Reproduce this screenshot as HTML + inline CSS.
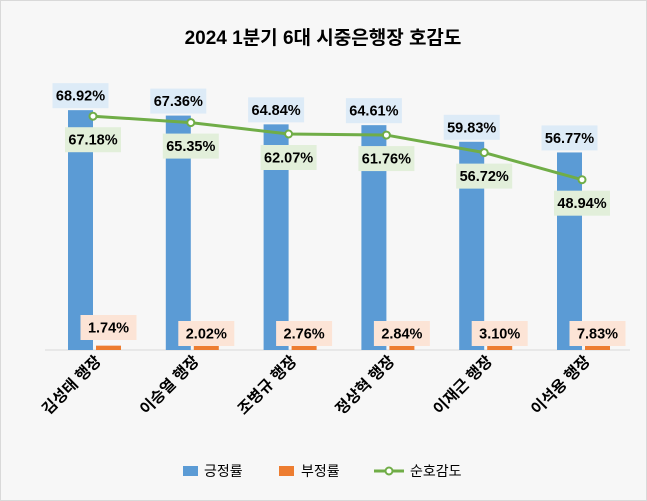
<!DOCTYPE html>
<html><head><meta charset="utf-8"><style>
body{margin:0;background:#fff}
svg{display:block;font-family:"Liberation Sans","Noto Sans CJK KR",sans-serif}
</style></head><body>
<svg id="chart" width="647" height="501">
<rect x="0.5" y="0.5" width="646" height="500" fill="#f7f7f7" stroke="#d9d9d9"/>
<text x="323" y="44" text-anchor="middle" font-size="19" font-weight="bold" fill="#000">2024 1분기 6대 시중은행장 호감도</text>
<line x1="45" y1="350" x2="630" y2="350" stroke="#d9d9d9"/>
<g id="marks"></g>
<g>
<rect x="183" y="466" width="15" height="10" fill="#5b9bd5"/>
<text x="204" y="476" font-size="14">긍정률</text>
<rect x="279" y="466" width="15" height="10" fill="#ed7d31"/>
<text x="301" y="476" font-size="14">부정률</text>
<line x1="374" y1="471" x2="404" y2="471" stroke="#70ad47" stroke-width="3"/>
<circle cx="389" cy="471" r="3.5" fill="#fff" stroke="#70ad47" stroke-width="2"/>
<text x="410" y="476" font-size="14">순호감도</text>
</g>
</svg>
<script>
const categories=["김성태 행장","이승열 행장","조병규 행장","정상혁 행장","이재근 행장","이석용 행장"];
const positive=[68.92,67.36,64.84,64.61,59.83,56.77];
const negative=[1.74,2.02,2.76,2.84,3.10,7.83];
const net=[67.18,65.35,62.07,61.76,56.72,48.94];
const NS="http://www.w3.org/2000/svg";
const g=document.getElementById('marks');
const y0=350,sc=3.48,nsc=0.2;
function y(v){return y0-v*sc;}
// NOTE: not proportional to the positive-bar scale; compressed to match the reference image.
function nh(v){return 4+v*nsc;}
function cx(i){return 93+i*97.8;}
function mk(t,a){const e=document.createElementNS(NS,t);for(const k in a)e.setAttribute(k,a[k]);g.appendChild(e);return e;}
function label(x,yc,txt,bg,name){
  const r=mk('rect',{x:x-28,y:yc-12,width:56,height:25,fill:bg});
  
  
  const t=mk('text',{x:x,y:yc+5.5,'text-anchor':'middle','font-size':14.5,'font-weight':'bold',fill:'#000'});
  t.textContent=txt;
  
  
}
categories.forEach((c,i)=>{
  const b=mk('rect',{x:cx(i)-25,y:y(positive[i]),width:25,height:positive[i]*sc,fill:'#5b9bd5'});
  
  
  const o=mk('rect',{x:cx(i)+3,y:y0-nh(negative[i]),width:25,height:nh(negative[i]),fill:'#ed7d31'});
  
  
  const t=mk('text',{transform:`translate(${cx(i)+9},362) rotate(-45)`,'text-anchor':'end','font-size':15.5,'font-weight':'bold',fill:'#000'});
  t.textContent=c;
  
  
});
const pts=net.map((v,i)=>cx(i)+','+y(v)).join(' ');
const pl=mk('polyline',{points:pts,fill:'none',stroke:'#70ad47','stroke-width':3});


net.forEach((v,i)=>{
  const m=mk('circle',{cx:cx(i),cy:y(v),r:3.5,fill:'#fff',stroke:'#70ad47','stroke-width':2});
  
  
});
categories.forEach((c,i)=>{
  label(cx(i)-12.5,y(positive[i])-15,positive[i].toFixed(2)+'%','#ddebf7','positive-value-'+i);
  label(cx(i),y(net[i])+23,net[i].toFixed(2)+'%','#e2efda','net-value-'+i);
  label(cx(i)+15.5,i===0?327:333,negative[i].toFixed(2)+'%','#fce4d6','negative-value-'+i);
});
</script>
</body></html>
